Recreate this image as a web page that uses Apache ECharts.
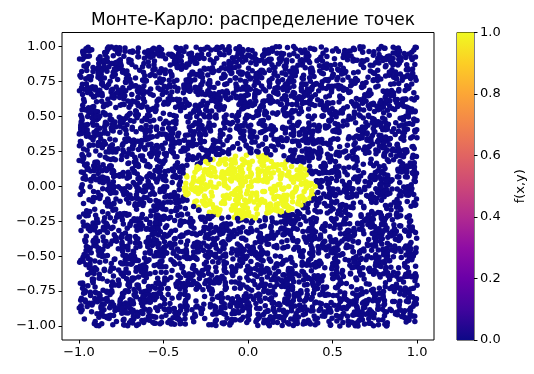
<!DOCTYPE html>
<html>
<head>
<meta charset="utf-8">
<script src="https://cdn.jsdelivr.net/npm/echarts@6/dist/echarts.min.js"></script>
<style>html,body{margin:0;padding:0;background:#fff}#c{width:534px;height:374px}</style>
</head>
<body>
<div id="c"></div>
<script>
// Chart text and ticks
const titleText = 'Монте-Карло: распределение точек';
const xTicks = [-1.0, -0.5, 0.0, 0.5, 1.0];
const yTicks = [-1.0, -0.75, -0.5, -0.25, 0.0, 0.25, 0.5, 0.75, 1.0];
const cbTicks = [0, 0.2, 0.4, 0.6, 0.8, 1.0];
const cbLabel = 'f(x,y)';
// Region: f(x,y)=1 inside the ellipse, 0 outside
const ellipseSemiAxes = [0.40, 0.23];
const sampleCount = 5000;
const plasma = ['#0d0887','#41049d','#6a00a8','#8f0da4','#b12a90','#cc4778','#e16462','#f2844b','#fca636','#fcce25','#f0f921'];

// The reference shows Monte-Carlo samples that cannot be read one by one;
// a fixed-seed uniform sample over [-1,1]^2 stands in for them.
function mulberry32(a){return function(){a|=0;a=a+0x6D2B79F5|0;let t=Math.imul(a^a>>>15,1|a);t=t+Math.imul(t^t>>>7,61|t)^t;return((t^t>>>14)>>>0)/4294967296;};}
const rnd = mulberry32(42);
const points = [];
for (let i = 0; i < sampleCount; i++) {
  const x = rnd()*2-1, y = rnd()*2-1;
  const f = (x/ellipseSemiAxes[0])**2 + (y/ellipseSemiAxes[1])**2 <= 1 ? 1 : 0;
  points.push([x, y, f]);
}

const fmt = (v, d) => (v < 0 ? '\u2212' : '') + Math.abs(v).toFixed(d);
const font = 'DejaVu Sans';
const chart = echarts.init(document.getElementById('c'), null, {renderer:'canvas'});
chart.setOption({
  animation: false,
  backgroundColor: '#fff',
  textStyle: {fontFamily: font},
  title: {text: titleText, left: 248, textAlign: 'center', top: 7,
    textStyle: {fontFamily: font, fontSize: 17, fontWeight: 'normal', color: '#000'}},
  grid: [
    {left: 62, top: 32.5, width: 372, height: 307.5, show: true, borderColor: '#000', borderWidth: 1, backgroundColor: 'transparent'},
    {left: 457, top: 32.5, width: 17, height: 307.5, show: true, borderColor: '#000', borderWidth: 1, backgroundColor: 'transparent'}
  ],
  xAxis: [
    {type: 'value', gridIndex: 0, min: -1.1, max: 1.1, splitLine: {show: false},
      axisLine: {show: false, onZero: false},
      axisTick: {show: true, inside: false, length: 3.5, lineStyle: {color: '#000'}, customValues: xTicks},
      axisLabel: {show: true, customValues: xTicks, color: '#000', fontSize: 13, fontFamily: font, margin: 6,
        formatter: v => fmt(v, 1)}},
    {type: 'category', gridIndex: 1, data: [''], show: false}
  ],
  yAxis: [
    {type: 'value', gridIndex: 0, min: -1.1, max: 1.1, splitLine: {show: false},
      axisLine: {show: false, onZero: false},
      axisTick: {show: true, inside: false, length: 3.5, lineStyle: {color: '#000'}, customValues: yTicks},
      axisLabel: {show: true, customValues: yTicks, color: '#000', fontSize: 13, fontFamily: font, margin: 6,
        formatter: v => fmt(v, 2)}},
    {type: 'value', gridIndex: 1, min: 0, max: 1, position: 'right', splitLine: {show: false},
      axisLine: {show: false, onZero: false},
      axisTick: {show: true, inside: false, length: 3.5, lineStyle: {color: '#000'}, customValues: cbTicks},
      axisLabel: {show: true, customValues: cbTicks, color: '#000', fontSize: 13, fontFamily: font, margin: 6,
        formatter: v => v.toFixed(1)},
      name: cbLabel, nameLocation: 'middle', nameGap: 40, nameRotate: 90,
      nameTextStyle: {color: '#000', fontSize: 13, fontFamily: font}}
  ],
  visualMap: {show: false, type: 'continuous', min: 0, max: 1, dimension: 2, seriesIndex: 0, inRange: {color: plasma}},
  series: [
    {type: 'scatter', xAxisIndex: 0, yAxisIndex: 0, data: points, symbolSize: 5.5, large: false,
      itemStyle: {opacity: 1}, silent: true},
    {type: 'bar', xAxisIndex: 1, yAxisIndex: 1, data: [1], barWidth: '100%', silent: true,
      itemStyle: {color: new echarts.graphic.LinearGradient(0, 1, 0, 0,
        plasma.map((c, i) => ({offset: i/(plasma.length-1), color: c})))}}
  ]
});
</script>
</body>
</html>
